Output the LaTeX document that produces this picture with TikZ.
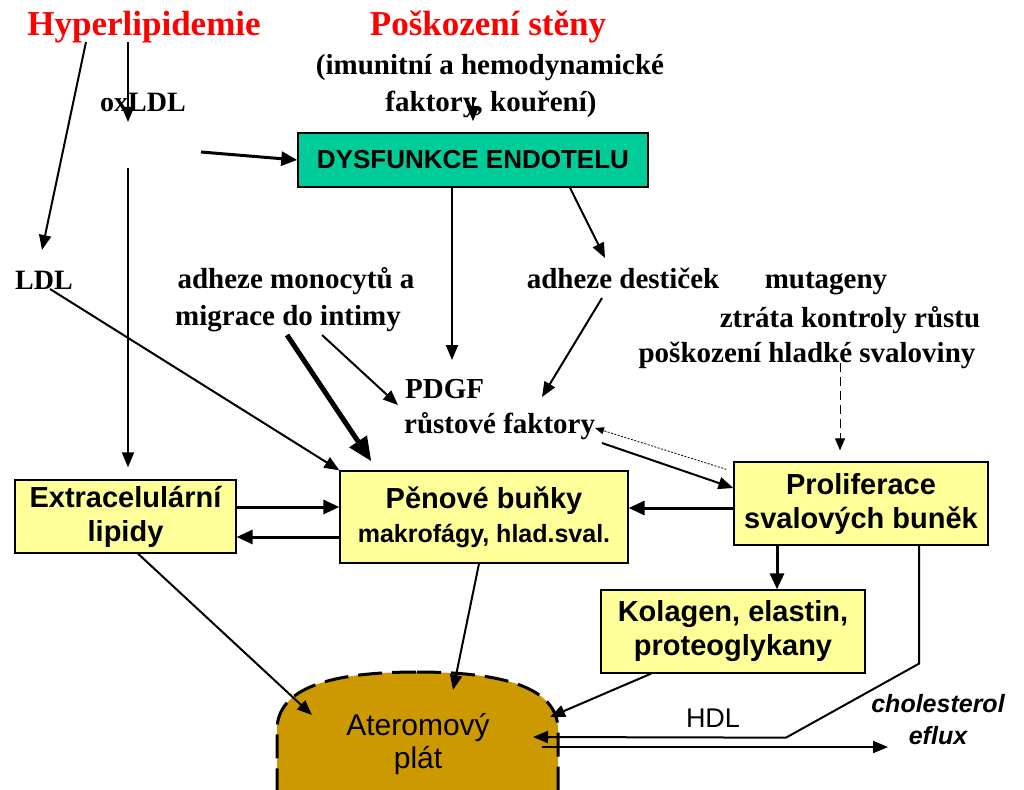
\documentclass[tikz,border=0pt]{standalone}
\usepackage{fontspec}
\setmainfont{Liberation Serif}
\setsansfont{Liberation Sans}
\usetikzlibrary{arrows.meta}
\definecolor{endoteal}{RGB}{0,204,153}
\definecolor{boxyellow}{RGB}{255,255,153}
\definecolor{plaquebrown}{RGB}{204,153,0}

\begin{document}
\begin{tikzpicture}[x=1pt, y=-1pt,
    lbl/.style={inner sep=0pt, anchor=base, font=\bfseries\fontsize{29}{34}\selectfont},
    redtitle/.style={inner sep=0pt, anchor=base, text=red, font=\bfseries\fontsize{35}{40}\selectfont},
    yellowbox/.style={draw, line width=1.3pt, fill=boxyellow, align=center, inner sep=0pt,
      font=\sffamily\bfseries\fontsize{29}{34}\selectfont},
    arr/.style={line width=2pt, -{Triangle[length=15pt,width=12pt]}},
    heavy/.style={line width=3pt, -{Triangle[length=16pt,width=14pt]}},
  ]
    \useasboundingbox (0,0) rectangle (1024,789);

    \filldraw[fill=plaquebrown, line width=3pt, dash pattern=on 24pt off 10pt]
      (417,672) .. controls (505,672) and (558,688) .. (558,730) -- (558,792)
      -- (277,792) -- (277,730) .. controls (277,688) and (330,672) .. cycle;
    \node[inner sep=0pt, align=center, font=\sffamily\fontsize{30}{33}\selectfont] (plak) at (418,744) {Ateromový\\plát};

    \node[redtitle] (hyp) at (144,36) {Hyperlipidemie};
    \node[redtitle] (posk) at (488,36) {Poškození stěny};
    \node[lbl] (imun) at (490,75) {(imunitní a hemodynamické};
    \node[lbl] (fakt) at (491,112) {faktory, kouření)};
    \node[lbl, font=\bfseries\fontsize{28}{34}\selectfont] (oxldl) at (143,112) {oxLDL};
    \node[draw, line width=1.5pt, fill=endoteal, minimum width=350pt, minimum height=54pt, inner sep=0pt,
      font=\sffamily\bfseries\fontsize{26}{30}\selectfont] (dys) at (473,160) {DYSFUNKCE ENDOTELU};

    \node[lbl, font=\bfseries\fontsize{28}{34}\selectfont] (ldl) at (44,289) {LDL};
    \node[lbl] (adhm) at (296,288) {adheze monocytů a};
    \node[lbl] (migr) at (288,325) {migrace do intimy};
    \node[lbl] (adhd) at (623,288) {adheze destiček};
    \node[lbl] (mutag) at (826,288) {mutageny};
    \node[lbl] (ztrata) at (850,327) {ztráta kontroly růstu};
    \node[lbl] (poskh) at (807,362) {poškození hladké svaloviny};
    \node[lbl, anchor=base west] (pdgf) at (405,398) {PDGF};
    \node[lbl, anchor=base west] (rust) at (404,433) {růstové faktory};

    \node[yellowbox, minimum width=221pt, minimum height=73pt] (extra) at (125.5,516.5) {Extracelulární\\lipidy};
    \node[yellowbox, minimum width=288pt, minimum height=92pt] (pen) at (484,517)
      {Pěnové buňky\\{\fontsize{25}{34}\selectfont makrofágy, hlad.sval.}};
    \node[yellowbox, minimum width=254pt, minimum height=83pt] (prolif) at (861,503.5) {Proliferace\\svalových buněk};
    \node[yellowbox, minimum width=264pt, minimum height=83pt] (kolag) at (733,631.5) {Kolagen, elastin,\\proteoglykany};

    \node[inner sep=0pt, anchor=base, font=\sffamily\fontsize{27}{30}\selectfont] (hdl) at (713,727) {HDL};
    \node[inner sep=0pt, align=center, font=\sffamily\bfseries\itshape\fontsize{25}{32}\selectfont] (efl) at (938,720) {cholesterol\\eflux};

    \draw[arr] ([shift={(-58,6)}]hyp.base) -- ([shift={(-2,-39)}]ldl.base);
    \draw[arr] ([shift={(-16,6)}]hyp.base) -- ([shift={(-15,10)}]oxldl.base);
    \draw[heavy] ([shift={(58,40)}]oxldl.base) -- (dys.west);
    \draw[arr] ([shift={(-15,56)}]oxldl.base) -- ([shift={(2.5,-12)}]extra.north);
    \draw[arr] ([shift={(-18,-15)}]fakt.base) -- ([yshift=11pt]dys.north);

    \draw[arr] ([xshift=-21pt]dys.south) -- ([shift={(47,-38)}]pdgf.base west);
    \draw[arr] ([xshift=97pt]dys.south) -- ([shift={(-18,-30)}]adhd.base);
    \draw[arr] ([shift={(-21,10)}]adhd.base) -- ([shift={(138,-36)}]rust.base west);
    \draw[arr] ([xshift=6pt]ldl.base) -- (pen.north west);
    \draw[line width=5pt, -{Triangle[length=24pt,width=20pt]}] ([shift={(-1,10)}]migr.base) -- ([shift={(32,-9)}]pen.north west);
    \draw[arr] ([shift={(34,10)}]migr.base) -- ([shift={(-7,7)}]pdgf.base west);

    \draw[arr] ([shift={(198,10)}]rust.base west) -- ([yshift=15.5pt]prolif.west);
    \draw[line width=0.8pt, dash pattern=on 2pt off 1.5pt, -{Triangle[length=9pt,width=7pt]}]
      ([shift={(-7,8)}]prolif.north west) -- ([shift={(191,-5)}]rust.base west);
    \draw[line width=1pt, dash pattern=on 9pt off 5pt, -{Triangle[length=12pt,width=10pt]}]
      ([shift={(33,1)}]poskh.base) -- ([shift={(-21,-11)}]prolif.north);

    \draw[heavy] ([yshift=9.5pt]extra.east) -- ([yshift=9.5pt]extra.east -| pen.west);
    \draw[heavy] ([yshift=-20pt]pen.west) -- ([yshift=-20pt]pen.west -| extra.east);
    \draw[heavy] ([yshift=-4.5pt]prolif.west) -- ([yshift=-4.5pt]prolif.west -| pen.east);
    \draw[heavy] ([xshift=-84pt]prolif.south) -- ([xshift=-84pt]prolif.south |- kolag.north);

    \draw[arr] ([xshift=12.5pt]extra.south) -- ([shift={(-106,-29)}]plak.center);
    \draw[arr] ([xshift=-5pt]pen.south) -- ([shift={(35,-54)}]plak.center);
    \draw[arr] ([xshift=-82pt]kolag.south) -- ([shift={(132,-27)}]plak.center);
    \draw[arr] ([xshift=58pt]prolif.south) -- ++(0,118) -- ++(-133,74) -- ([shift={(115,-7)}]plak.center);
    \draw[arr] ([shift={(124,3)}]plak.center) -- ([shift={(-50,27)}]efl.center);

\end{tikzpicture}
\end{document}
